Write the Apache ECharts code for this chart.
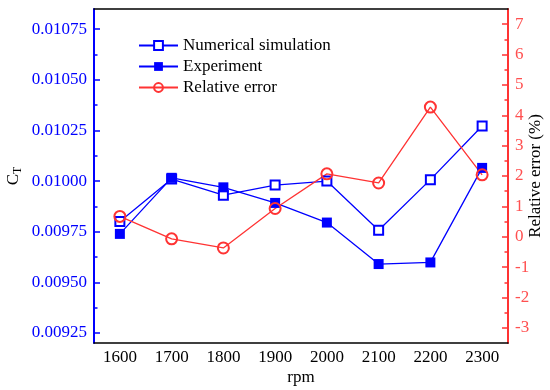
<!DOCTYPE html>
<html>
<head>
<meta charset="utf-8">
<script src="https://cdn.jsdelivr.net/npm/echarts@6/dist/echarts.min.js"></script>
<style>html,body{margin:0;padding:0;background:#fff}#c{width:550px;height:390px}</style>
</head>
<body>
<div id="c"></div>
<script>
var categories = ['1600','1700','1800','1900','2000','2100','2200','2300'];
var numerical = [0.00980, 0.01001, 0.00993, 0.00998, 0.01000, 0.009757, 0.010007, 0.010272];
var experiment = [0.009739, 0.010016, 0.009969, 0.009892, 0.009795, 0.00959, 0.009598, 0.010065];
var relError = [0.67, -0.07, -0.37, 0.93, 2.07, 1.77, 4.27, 2.04];
var leftTicks = [0.00925, 0.0095, 0.00975, 0.01, 0.01025, 0.0105, 0.01075];
var leftMinor = [0.009375, 0.009625, 0.009875, 0.010125, 0.010375, 0.010625];
var rightTicks = [-3, -2, -1, 0, 1, 2, 3, 4, 5, 6, 7];
var rightMinor = [-2.5, -1.5, -0.5, 0.5, 1.5, 2.5, 3.5, 4.5, 5.5, 6.5];

var FONT = 'Liberation Serif';
var BLUE = '#0000ff';
var RED = '#ff3333';
var RED_L = '#ff5050';

var chart = echarts.init(document.getElementById('c'));
chart.setOption({
  animation: false,
  textStyle: {fontFamily: FONT},
  grid: {left: 94, right: 42, top: 9, bottom: 47, containLabel: false, outerBoundsMode: 'none'},
  legend: {
    orient: 'vertical', left: 133, top: 32, itemWidth: 39, itemHeight: 11, itemGap: 4,
    textStyle: {fontFamily: FONT, fontSize: 17, color: '#000'},
    data: ['Numerical simulation', 'Experiment', 'Relative error']
  },
  xAxis: [{
    type: 'category', data: categories, boundaryGap: true, position: 'bottom',
    name: 'rpm', nameLocation: 'middle', nameGap: 26, nameMoveOverlap: false,
    nameTextStyle: {fontFamily: FONT, fontSize: 17, color: '#000'},
    axisLine: {onZero: false, lineStyle: {color: '#000', width: 1.5}},
    axisTick: {inside: true, length: 6, alignWithLabel: true, lineStyle: {width: 1.5}},
    axisLabel: {fontFamily: FONT, fontSize: 17, color: '#000', margin: 6},
    splitLine: {show: false}
  }, {
    type: 'category', data: categories, boundaryGap: true, position: 'top',
    axisLine: {onZero: false, lineStyle: {color: '#000', width: 1.5}},
    axisTick: {inside: true, length: 6, alignWithLabel: true, lineStyle: {width: 1.5}},
    axisLabel: {show: false}, splitLine: {show: false}
  }],
  yAxis: [{
    type: 'value', position: 'left', min: 0.0092, max: 0.01085,
    name: '{a|C}{b|T}', nameLocation: 'middle', nameRotate: 90, nameGap: 70, nameMoveOverlap: false,
    nameTextStyle: {fontFamily: FONT, fontSize: 17, color: '#000',
      rich: {a: {fontFamily: FONT, fontSize: 17, color: '#000'},
             b: {fontFamily: FONT, fontSize: 12, color: '#000', padding: [9, 0, 0, 0]}}},
    axisLine: {show: true, onZero: false, lineStyle: {color: BLUE, width: 2}},
    axisTick: {show: true, inside: true, length: 6, customValues: leftTicks, lineStyle: {color: BLUE, width: 1.5}},
    axisLabel: {customValues: leftTicks, fontFamily: FONT, fontSize: 17, color: BLUE, margin: 7,
      formatter: function (v) { return v.toFixed(5); }},
    splitLine: {show: false}
  }, {
    type: 'value', position: 'left', min: 0.0092, max: 0.01085,
    axisLine: {show: false, onZero: false},
    axisTick: {show: true, inside: true, length: 3.5, customValues: leftMinor, lineStyle: {color: BLUE, width: 1.5}},
    axisLabel: {show: false}, splitLine: {show: false}
  }, {
    type: 'value', position: 'right', min: -3.5, max: 7.5,
    name: 'Relative error (%)', nameLocation: 'middle', nameRotate: 90, nameGap: 19, nameMoveOverlap: false,
    nameTextStyle: {fontFamily: FONT, fontSize: 17, color: '#000'},
    axisLine: {show: true, onZero: false, lineStyle: {color: RED, width: 2}},
    axisTick: {show: true, inside: true, length: 6, customValues: rightTicks, lineStyle: {color: RED, width: 1.5}},
    axisLabel: {customValues: rightTicks, fontFamily: FONT, fontSize: 17, color: RED_L, margin: 7},
    splitLine: {show: false}
  }, {
    type: 'value', position: 'right', min: -3.5, max: 7.5,
    axisLine: {show: false, onZero: false},
    axisTick: {show: true, inside: true, length: 3.5, customValues: rightMinor, lineStyle: {color: RED, width: 1.5}},
    axisLabel: {show: false}, splitLine: {show: false}
  }],
  series: [{
    name: 'Numerical simulation', type: 'line', xAxisIndex: 0, yAxisIndex: 0, data: numerical,
    symbol: 'rect', symbolSize: 9,
    lineStyle: {color: BLUE, width: 1.3},
    itemStyle: {color: '#fff', borderColor: BLUE, borderWidth: 2}
  }, {
    name: 'Experiment', type: 'line', xAxisIndex: 0, yAxisIndex: 0, data: experiment,
    symbol: 'rect', symbolSize: 10,
    lineStyle: {color: BLUE, width: 1.3},
    itemStyle: {color: BLUE, borderColor: BLUE, borderWidth: 0}
  }, {
    name: 'Relative error', type: 'line', xAxisIndex: 0, yAxisIndex: 2, data: relError,
    symbol: 'circle', symbolSize: 11,
    lineStyle: {color: RED, width: 1.3},
    itemStyle: {color: 'rgba(255,255,255,0)', borderColor: RED, borderWidth: 2}
  }]
});
</script>
</body>
</html>
